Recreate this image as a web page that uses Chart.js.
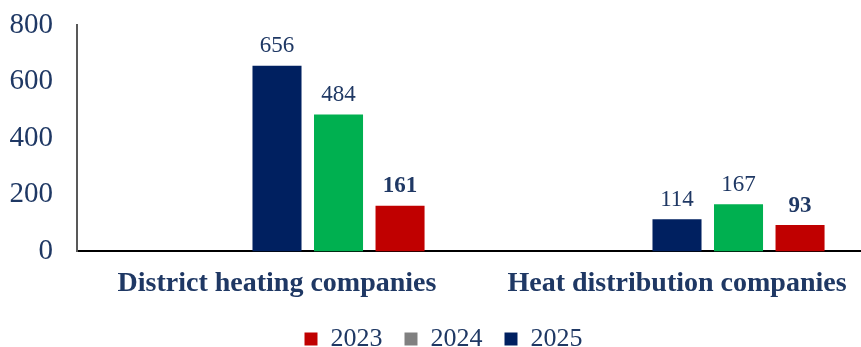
<!DOCTYPE html>
<html>
<head>
<meta charset="utf-8">
<script src="https://cdn.jsdelivr.net/npm/chart.js@4.4.1/dist/chart.umd.min.js"></script>
<style>
  html, body { margin: 0; padding: 0; background: #fff; overflow: hidden; width: 861px; height: 347px; }
  #wrap { width: 902px; height: 347px; }
</style>
</head>
<body>
<div id="wrap"><canvas id="c" width="902" height="347"></canvas></div>
<script>
const categories = ["District heating companies", "Heat distribution companies"];
const yTicks = [0, 200, 400, 600, 800];
const values2025 = [656, 114];
const values2024 = [484, 167];
const values2023 = [161, 93];
const legendLabels = ["2023", "2024", "2025"];

const NAVY = "#002060", GREEN = "#00B050", RED = "#C00000", GRAY = "#808080";
const TEXT = "#1F3864";
const SERIF = "'Liberation Serif', 'Times New Roman', serif";

const valueLabels = {
  id: "valueLabels",
  afterDatasetsDraw(chart) {
    const ctx = chart.ctx;
    chart.data.datasets.forEach((ds, i) => {
      if (!ds.showValues) return;
      const meta = chart.getDatasetMeta(i);
      meta.data.forEach((bar, j) => {
        const v = ds.data[j];
        if (v == null) return;
        ctx.save();
        ctx.font = (ds.boldValues ? "bold " : "") + "23px " + SERIF;
        ctx.fillStyle = TEXT;
        ctx.textAlign = "center";
        ctx.textBaseline = "bottom";
        ctx.fillText(String(v), bar.x, bar.y - 8);
        ctx.restore();
      });
    });
  }
};

new Chart(document.getElementById("c"), {
  type: "bar",
  data: {
    labels: categories,
    datasets: [
      { label: "", data: [null, null], backgroundColor: "rgba(0,0,0,0)" },
      { label: "", data: [null, null], backgroundColor: "rgba(0,0,0,0)" },
      { label: legendLabels[2], data: values2025, backgroundColor: NAVY, showValues: true },
      { label: legendLabels[1], data: values2024, backgroundColor: GREEN, showValues: true, legendColor: GRAY },
      { label: legendLabels[0], data: values2023, backgroundColor: RED, showValues: true, boldValues: true }
    ]
  },
  options: {
    responsive: false,
    animation: false,
    categoryPercentage: 0.769,
    barPercentage: 0.797,
    layout: { padding: { top: 25, left: 10, right: 25, bottom: -15 } },
    scales: {
      x: {
        grid: { display: false, drawTicks: false },
        border: { display: true, color: "#000", width: 2 },
        ticks: { color: TEXT, font: { family: SERIF, size: 28, weight: "bold" }, padding: 16 }
      },
      y: {
        min: 0, max: 800,
        afterBuildTicks(axis) { axis.ticks = yTicks.map(v => ({ value: v })); },
        afterFit(axis) { axis.width = 67; axis.paddingTop = 0; axis.paddingBottom = 0; },
        grid: { display: false, drawTicks: false },
        border: { display: true, color: "#595959", width: 2 },
        ticks: { color: TEXT, font: { family: SERIF, size: 29 }, padding: 24 }
      }
    },
    plugins: {
      tooltip: { enabled: false },
      legend: {
        position: "bottom",
        labels: {
          color: TEXT,
          font: { family: SERIF, size: 26 },
          boxWidth: 13,
          boxHeight: 13,
          padding: 9,
          generateLabels(chart) {
            const ds = chart.data.datasets;
            const items = [];
            for (let i = ds.length - 1; i >= 0; i--) {
              if (!ds[i].label) continue;
              const c = ds[i].legendColor || ds[i].backgroundColor;
              items.push({ text: ds[i].label, fillStyle: c, strokeStyle: c, lineWidth: 0, datasetIndex: i, fontColor: TEXT });
            }
            items.forEach((it, k) => { if (k < items.length - 1) it.text += "\u00a0\u00a0"; });
            return items;
          }
        }
      }
    }
  },
  plugins: [valueLabels]
});
</script>
</body>
</html>
